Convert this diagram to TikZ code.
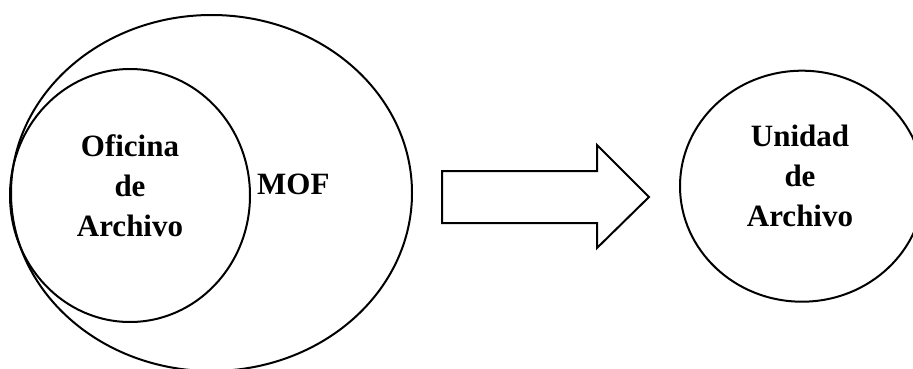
\documentclass[tikz,border=0pt]{standalone}
\usepackage{fontspec}
\setmainfont{Liberation Serif}
\usetikzlibrary{shapes.geometric}
\tikzset{
  outline/.style={draw=black, line width=2pt},
  oval/.style={outline, ellipse, inner sep=0pt},
  label text/.style={font=\bfseries\fontsize{31}{40}\selectfont, align=center, inner sep=0pt}
}
\begin{document}
\begin{tikzpicture}[x=1pt, y=-1pt]
  \useasboundingbox (0,0) rectangle (913,369);
  \clip (0,0) rectangle (913,369);
  % outer set and the office inside it
  \node[oval, minimum width=401pt, minimum height=356pt] (mof) at (211.5,193) {};
  \node[oval, minimum width=240pt, minimum height=253pt] (oficina) at (130,195.5) {};
  \node[label text] (toficina) at (130,186) {Oficina\\de\\Archivo};
  \node[label text, anchor=base west] (tmof) at (257,194) {MOF};
  % block arrow
  \draw[outline, line join=miter]
    (442,171) coordinate (a1) -- (597,171) -- (597,145) -- (649,197) coordinate (tip)
    -- (597,248) -- (597,223) -- (442,223) -- cycle;
  % resulting unit
  \node[oval, minimum width=244pt, minimum height=231pt] (unidad) at (802,186.2) {};
  \node[label text] (tunidad) at (800,175.5) {Unidad\\de\\Archivo};
\end{tikzpicture}
\end{document}
